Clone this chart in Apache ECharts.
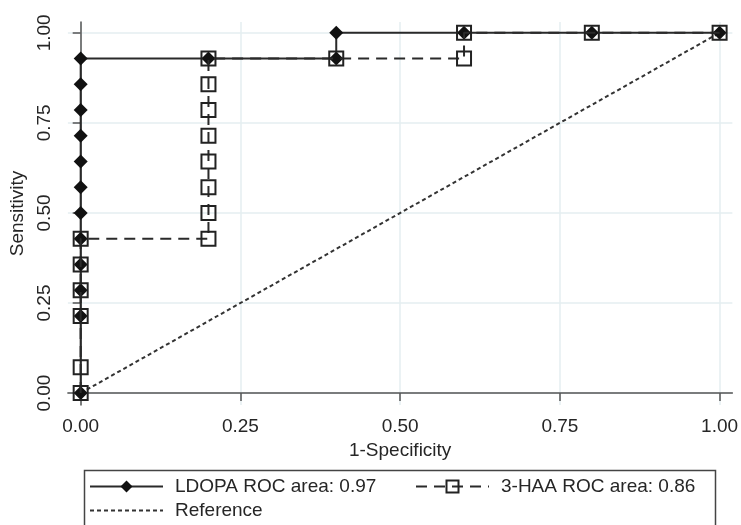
<!DOCTYPE html>
<html>
<head>
<meta charset="utf-8">
<script src="https://cdn.jsdelivr.net/npm/echarts@6/dist/echarts.min.js"></script>
<style>html,body{margin:0;padding:0;background:#fff}#c{width:741px;height:525px}</style>
</head>
<body>
<div id="c"></div>
<script>
// ---- data ----
var tickValues = [0, 0.25, 0.5, 0.75, 1];
var ldopaX = [0, 0, 0, 0, 0, 0, 0, 0, 0, 0, 0, 0, 0.2, 0.4, 0.4, 0.6, 0.8, 1];
var ldopaY = [0, 3/14, 4/14, 5/14, 6/14, 7/14, 8/14, 9/14, 10/14, 11/14, 12/14, 13/14, 13/14, 13/14, 1, 1, 1, 1];
var haaX = [0, 0, 0, 0, 0, 0, 0.2, 0.2, 0.2, 0.2, 0.2, 0.2, 0.2, 0.2, 0.4, 0.6, 0.6, 0.8, 1];
var haaY = [0, 1/14, 3/14, 4/14, 5/14, 6/14, 6/14, 7/14, 8/14, 9/14, 10/14, 11/14, 12/14, 13/14, 13/14, 13/14, 1, 1, 1];
var refX = [0, 1];
var refY = [0, 1];
var seriesNames = ['LDOPA ROC area: 0.97', '3-HAA ROC area: 0.86', 'Reference'];
</script>
<script>
function pairs(xs, ys){ return xs.map(function(x,i){ return [x, ys[i]]; }); }
var FONT = '"Liberation Sans", Arial, sans-serif';
var TXT = '#262626';
var chart = echarts.init(document.getElementById('c'));
function legendBase(names, left, top){
  return {
    data: names, left: left, top: top, orient: 'horizontal',
    itemWidth: 73, itemHeight: 15, padding: 0, selectedMode: false,
    textStyle: {fontSize: 19, color: TXT, fontFamily: FONT, padding: [0,0,0,7]}
  };
}
chart.setOption({
  animation: false,
  grid: {left: 63, right: 8, top: 22, bottom: 120},
  xAxis: {
    type: 'value', min: -0.02, max: 1.02,
    name: '1-Specificity', nameLocation: 'middle', nameGap: 30,
    nameTextStyle: {fontSize: 19, color: TXT, fontFamily: FONT},
    axisLine: {show: true, lineStyle: {color: '#555', width: 1.5}},
    axisTick: {show: true, customValues: tickValues, length: 8, lineStyle: {color: '#555', width: 1.5}},
    axisLabel: {customValues: tickValues, fontSize: 19, color: TXT, fontFamily: FONT, margin: 12,
      formatter: function(v){ return v.toFixed(2); }},
    splitLine: {show: true, lineStyle: {color: '#e5eef0', width: 1.5}}
  },
  yAxis: {
    type: 'value', min: -0.033, max: 1.03,
    name: 'Sensitivity', nameLocation: 'middle', nameGap: 34,
    nameTextStyle: {fontSize: 19, color: TXT, fontFamily: FONT},
    axisLine: {show: true, lineStyle: {color: '#555', width: 1.5}},
    axisTick: {show: true, customValues: tickValues, length: 8, lineStyle: {color: '#555', width: 1.5}},
    axisLabel: {customValues: tickValues, rotate: 90, fontSize: 19, color: TXT, fontFamily: FONT, margin: 14,
      formatter: function(v){ return v.toFixed(2); }},
    splitLine: {show: true, lineStyle: {color: '#e5eef0', width: 1.5}}
  },
  legend: [
    legendBase([seriesNames[0]], 89, 477),
    legendBase([seriesNames[1]], 415, 477),
    legendBase([{name: seriesNames[2], itemStyle: {opacity: 0}}], 89, 501)
  ],
  graphic: [{
    type: 'rect', left: 82, top: 468, shape: {width: 631, height: 80},
    style: {fill: 'none', stroke: '#444', lineWidth: 1.5}, silent: true
  }],
  series: [
    {
      name: seriesNames[2], type: 'line', data: pairs(refX, refY), symbol: 'none',
      lineStyle: {color: '#333', width: 2, type: [4, 3]}, itemStyle: {color: '#333'}, z: 1
    },
    {
      name: seriesNames[0], type: 'line', data: pairs(ldopaX, ldopaY),
      symbol: 'diamond', symbolSize: 14, showAllSymbol: true,
      itemStyle: {color: '#111'}, lineStyle: {color: '#2a2a2a', width: 2}, z: 2
    },
    {
      name: seriesNames[1], type: 'line', data: pairs(haaX, haaY),
      symbol: 'rect', symbolSize: 14, showAllSymbol: true,
      itemStyle: {color: 'rgba(0,0,0,0)', borderColor: '#222', borderWidth: 2},
      lineStyle: {color: '#2a2a2a', width: 2, type: [11, 7]}, z: 3
    }
  ]
});
</script>
</body>
</html>
